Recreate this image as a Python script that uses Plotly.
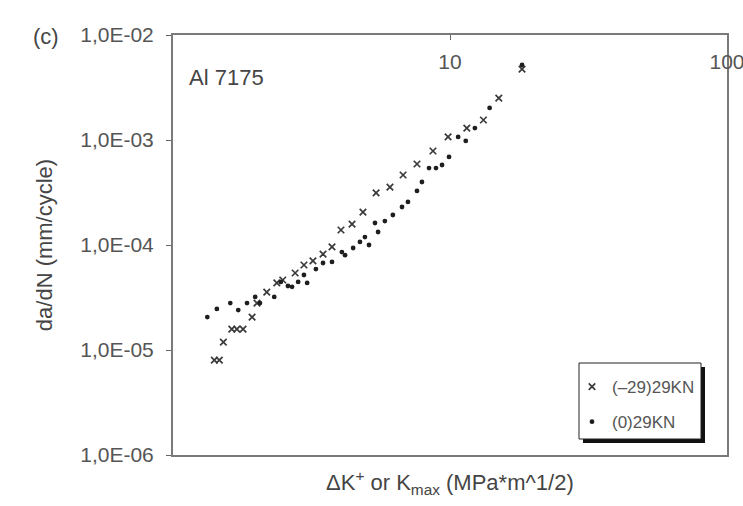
import plotly.graph_objects as go

# (-29)29KN series (crosses)
k_cross = [1.41, 1.47, 1.52, 1.63, 1.70, 1.79, 1.93, 2.01, 2.18, 2.37, 2.49, 2.76, 2.97, 3.20,
           3.48, 3.75, 4.04, 4.43, 4.85, 5.41, 6.07, 6.77, 7.60, 8.68, 9.84, 11.5, 13.2, 15.0, 18.2]
dadn_cross = [8.0e-6, 8.0e-6, 1.19e-5, 1.58e-5, 1.58e-5, 1.58e-5, 2.06e-5, 2.8e-5, 3.56e-5, 4.35e-5,
              4.64e-5, 5.41e-5, 6.45e-5, 7.05e-5, 8.2e-5, 9.6e-5, 1.39e-4, 1.58e-4, 2.06e-4, 3.13e-4,
              3.56e-4, 4.64e-4, 5.91e-4, 7.86e-4, 1.07e-3, 1.30e-3, 1.55e-3, 2.51e-3, 4.74e-3]

# (0)29KN series (dots)
k_dot = [1.33, 1.44, 1.61, 1.72, 1.85, 1.98, 2.06, 2.32, 2.45, 2.60, 2.69, 2.83, 2.97, 3.05,
         3.28, 3.48, 3.75, 4.07, 4.18, 4.47, 4.73, 4.93, 5.10, 5.36, 5.50, 5.82, 6.22, 6.71,
         7.05, 7.60, 7.92, 8.40, 8.90, 9.36, 9.92, 10.7, 11.4, 12.3, 13.9, 18.2]
dadn_dot = [2.06e-5, 2.46e-5, 2.8e-5, 2.4e-5, 2.8e-5, 3.2e-5, 2.8e-5, 3.2e-5, 4.45e-5, 4.07e-5,
            4.0e-5, 4.45e-5, 5.18e-5, 4.35e-5, 5.9e-5, 6.74e-5, 6.9e-5, 8.57e-5, 8.0e-5, 9.36e-5,
            1.07e-4, 1.19e-4, 1.0e-4, 1.62e-4, 1.33e-4, 1.69e-4, 1.93e-4, 2.3e-4, 2.57e-4, 3.27e-4,
            3.98e-4, 5.4e-4, 5.4e-4, 5.78e-4, 6.9e-4, 1.07e-3, 9.8e-4, 1.30e-3, 2.02e-3, 5.18e-3]

x_tickvals = [10, 100]
x_ticktext = ["10", "100"]
y_tickvals = [1e-6, 1e-5, 1e-4, 1e-3, 1e-2]
y_ticktext = ["1,0E-06", "1,0E-05", "1,0E-04", "1,0E-03", "1,0E-02"]

FONT = "Liberation Sans, Arial, sans-serif"
TXT = "#555555"
DARK = "#454545"

fig = go.Figure()
fig.add_trace(go.Scatter(
    x=k_cross, y=dadn_cross, mode="markers", name="(–29)29KN", legendgroup="a",
    marker=dict(symbol="x-thin", size=6.5, line=dict(width=1.7, color="#3a3a3a"), color="#3a3a3a"),
))
fig.add_trace(go.Scatter(
    x=k_dot, y=dadn_dot, mode="markers", name="(0)29KN", legendgroup="b",
    marker=dict(symbol="circle", size=4.8, color="#1e1e1e"),
))

W, H = 743, 506
L, R, T, B = 173, 727, 35, 455
pw, ph = R - L, B - T

def px(x):
    return (x - L) / pw

def py(y):
    return (B - y) / ph

fig.update_layout(
    width=W, height=H,
    margin=dict(l=L, r=W - R, t=T, b=H - B, autoexpand=False),
    paper_bgcolor="white", plot_bgcolor="white",
    font=dict(family=FONT, color=TXT),
    showlegend=True,
    legend=dict(x=px(572), y=py(369), xanchor="left", yanchor="top",
                bgcolor="rgba(0,0,0,0)", borderwidth=0,
                font=dict(size=17, color=TXT, family=FONT),
                tracegroupgap=10, itemwidth=30),
    xaxis=dict(type="log", range=[0, 2], side="top",
               tickvals=x_tickvals, ticktext=x_ticktext,
               ticks="inside", ticklen=5, tickcolor="#666666",
               ticklabelposition="inside", ticklabeloverflow="allow",
               ticklabelstandoff=16,
               tickfont=dict(size=21, color=TXT),
               showgrid=False, zeroline=False,
               showline=True, linecolor="#7a7a7a", linewidth=2, mirror=True),
    yaxis=dict(type="log", range=[-6, -2],
               tickvals=y_tickvals, ticktext=y_ticktext,
               ticks="outside", ticklen=5, tickcolor="#666666",
               ticklabelstandoff=8,
               tickfont=dict(size=21, color=TXT),
               showgrid=False, zeroline=False,
               showline=True, linecolor="#7a7a7a", linewidth=2, mirror=True,
               title=dict(text="da/dN (mm/cycle)", font=dict(size=22, color=DARK), standoff=22)),
    shapes=[
        dict(type="rect", xref="paper", yref="paper", layer="above",
             x0=px(583), x1=px(705), y0=py(443), y1=py(367),
             fillcolor="#111111", line=dict(width=0)),
        dict(type="rect", xref="paper", yref="paper", layer="above",
             x0=px(579), x1=px(701), y0=py(439), y1=py(363),
             fillcolor="white", line=dict(width=1, color="#222222")),
    ],
    annotations=[
        dict(text="(c)", xref="paper", yref="paper", x=px(46), y=py(37),
             xanchor="center", yanchor="middle",
             showarrow=False, font=dict(size=22, color=DARK)),
        dict(text="Al 7175", xref="paper", yref="paper", x=px(187), y=py(77),
             xanchor="left", yanchor="middle", showarrow=False, font=dict(size=22, color=DARK)),
        dict(text="ΔK<sup>+</sup> or K<sub>max</sub> (MPa*m^1/2)", xref="paper", yref="paper",
             x=px(450), y=py(482), xanchor="center", yanchor="middle",
             showarrow=False, font=dict(size=22, color=DARK)),
    ],
)

fig.write_html("out.html")
